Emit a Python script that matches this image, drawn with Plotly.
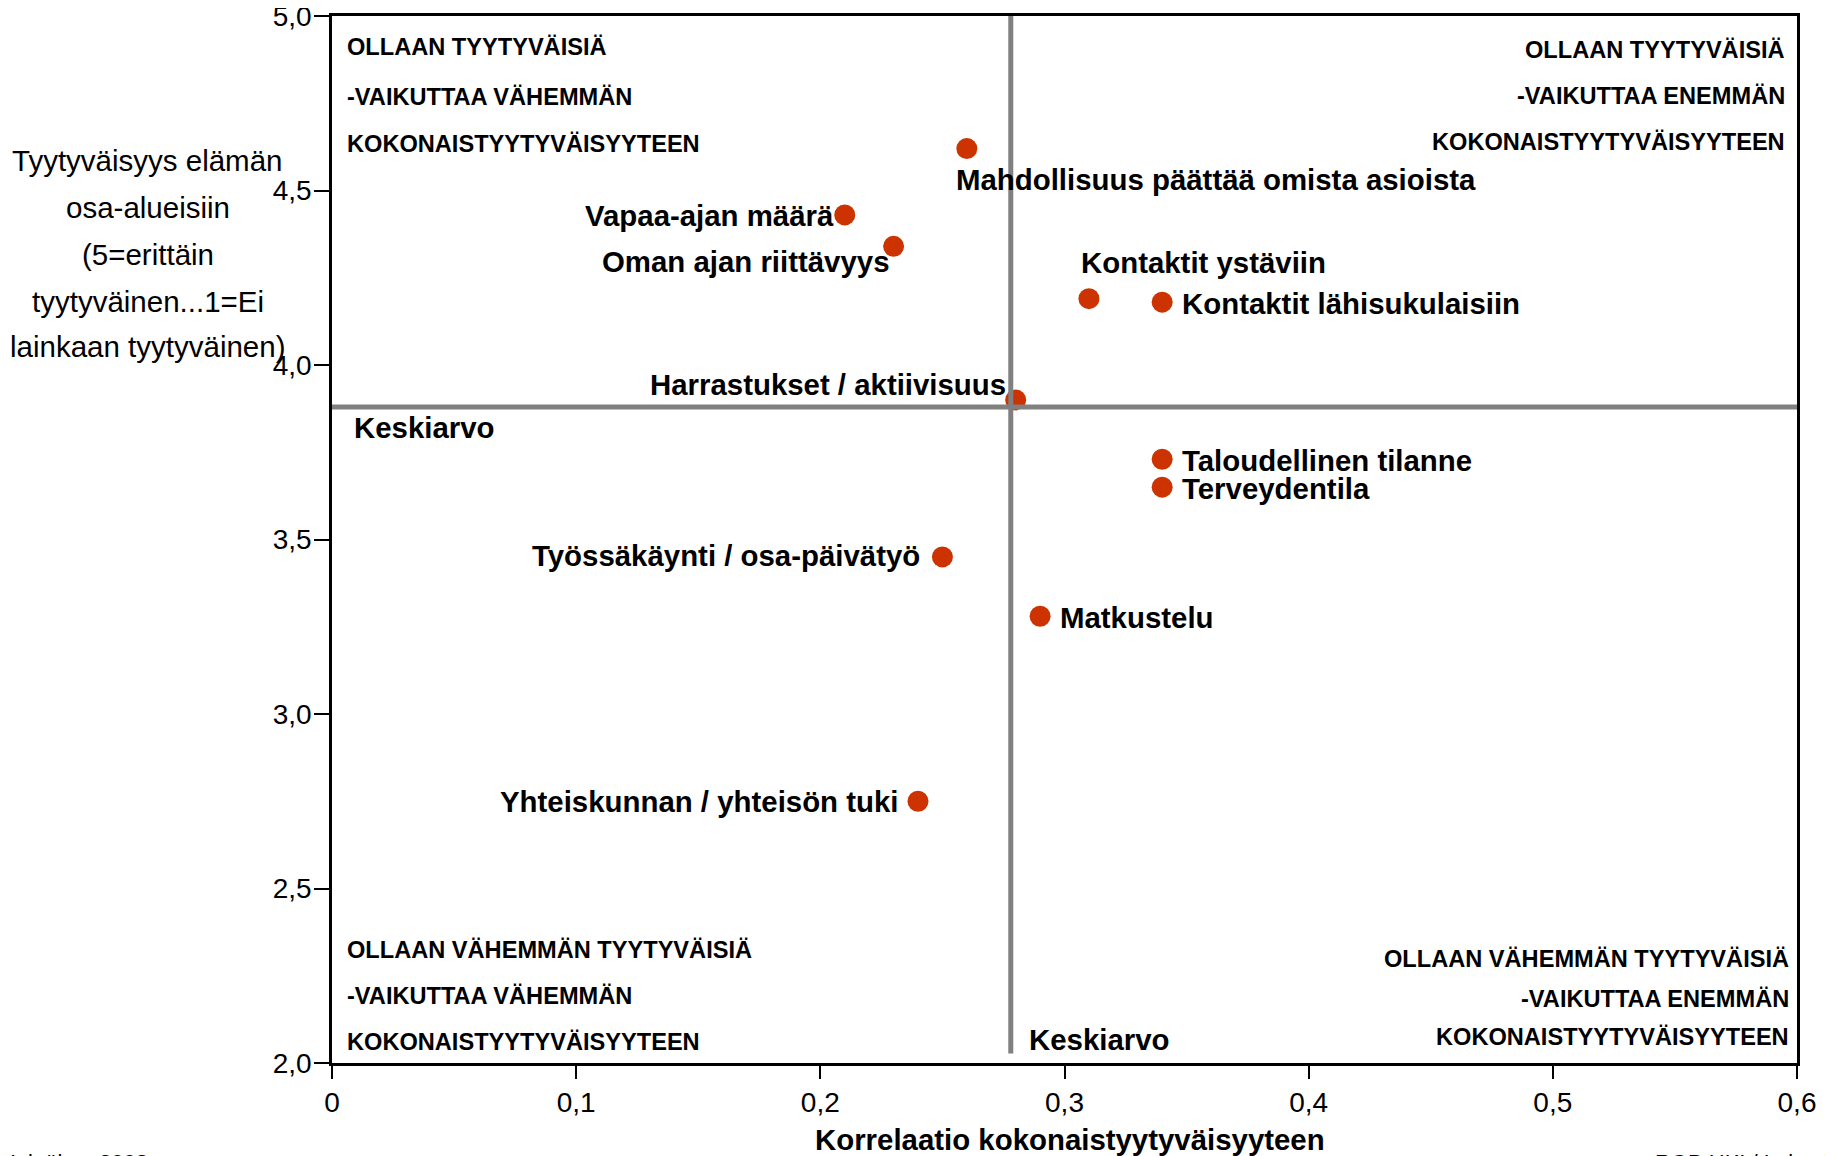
import plotly.graph_objects as go

# ---- data ----
labels = [
    "Mahdollisuus päättää omista asioista",
    "Vapaa-ajan määrä",
    "Oman ajan riittävyys",
    "Kontaktit ystäviin",
    "Kontaktit lähisukulaisiin",
    "Harrastukset / aktiivisuus",
    "Taloudellinen tilanne",
    "Terveydentila",
    "Työssäkäynti / osa-päivätyö",
    "Matkustelu",
    "Yhteiskunnan / yhteisön tuki",
]
correlation = [0.26, 0.21, 0.23, 0.31, 0.34, 0.28, 0.34, 0.34, 0.25, 0.29, 0.24]
satisfaction = [4.62, 4.43, 4.34, 4.19, 4.18, 3.90, 3.73, 3.65, 3.45, 3.28, 2.75]

mean_correlation = 0.278
mean_satisfaction = 3.88

x_tickvals = [0, 0.1, 0.2, 0.3, 0.4, 0.5, 0.6]
x_ticktext = ["0", "0,1", "0,2", "0,3", "0,4", "0,5", "0,6"]
y_tickvals = [2.0, 2.5, 3.0, 3.5, 4.0, 4.5, 5.0]
y_ticktext = ["2,0", "2,5", "3,0", "3,5", "4,0", "4,5", "5,0"]

x_title = "Korrelaatio kokonaistyytyväisyyteen"
y_title_lines = ["Tyytyväisyys elämän", "osa-alueisiin", "(5=erittäin",
                 "tyytyväinen...1=Ei", "lainkaan tyytyväinen)"]
quad_tl = ["OLLAAN TYYTYVÄISIÄ", "-VAIKUTTAA VÄHEMMÄN", "KOKONAISTYYTYVÄISYYTEEN"]
quad_tr = ["OLLAAN TYYTYVÄISIÄ", "-VAIKUTTAA ENEMMÄN", "KOKONAISTYYTYVÄISYYTEEN"]
quad_bl = ["OLLAAN VÄHEMMÄN TYYTYVÄISIÄ", "-VAIKUTTAA VÄHEMMÄN", "KOKONAISTYYTYVÄISYYTEEN"]
quad_br = ["OLLAAN VÄHEMMÄN TYYTYVÄISIÄ", "-VAIKUTTAA ENEMMÄN", "KOKONAISTYYTYVÄISYYTEEN"]
mean_label = "Keskiarvo"
footer_left = "Heinäkuu 2008"
footer_right = "ROB HKI / Leirasi"

# ---- styling / placement ----
FONT = "Liberation Sans, Arial, sans-serif"
DOT = "#CC3300"
GREY = "#808080"

# (xanchor, xshift, yshift) per label
label_pos = [
    ("left", -13, -31),
    ("right", -9, -1),
    ("right", -2, -15),
    ("left", -10, 36),
    ("left", 18, -1),
    ("right", -8, 15),
    ("left", 18, -1),
    ("left", 18, -1),
    ("right", -20, 1),
    ("left", 18, -1),
    ("right", -18, 0),
]

fig = go.Figure()

fig.add_trace(go.Scatter(
    x=correlation, y=satisfaction, mode="markers",
    marker=dict(color=DOT, size=21, line=dict(width=0)),
    hoverinfo="text", text=labels, showlegend=False,
))

# mean lines
fig.add_shape(type="line", x0=mean_correlation, x1=mean_correlation, y0=2.027, y1=5.0,
              xref="x", yref="y", line=dict(color=GREY, width=5), layer="above")
fig.add_shape(type="line", x0=0, x1=0.6, y0=mean_satisfaction, y1=mean_satisfaction,
              xref="x", yref="y", line=dict(color=GREY, width=5), layer="above")

ann = []
lab_font = dict(family=FONT, size=29.4, color="black")
for lab, xv, yv, (xa, xs, ys) in zip(labels, correlation, satisfaction, label_pos):
    ann.append(dict(x=xv, y=yv, xref="x", yref="y", text="<b>%s</b>" % lab,
                    showarrow=False, xanchor=xa, yanchor="middle",
                    xshift=xs, yshift=ys, font=lab_font))

# Keskiarvo labels
ann.append(dict(x=0, y=mean_satisfaction, xref="x", yref="y", text="<b>%s</b>" % mean_label,
                showarrow=False, xanchor="left", yanchor="middle", xshift=20, yshift=-21,
                font=lab_font))
ann.append(dict(x=mean_correlation, y=2.0, xref="x", yref="y", text="<b>%s</b>" % mean_label,
                showarrow=False, xanchor="left", yanchor="middle", xshift=16, yshift=24,
                font=lab_font))

# quadrant texts
qfont = dict(family=FONT, size=23.6, color="black")
def quad(lines, x, ys, xa, xs):
    for t, yv in zip(lines, ys):
        ann.append(dict(x=x, y=yv, xref="x", yref="y", text="<b>%s</b>" % t,
                        showarrow=False, xanchor=xa, yanchor="middle", xshift=xs,
                        font=qfont))

quad(quad_tl, 0, [4.91, 4.769, 4.632], "left", 13)
quad(quad_tr, 0.6, [4.903, 4.772, 4.638], "right", -10)
quad(quad_bl, 0, [2.325, 2.191, 2.060], "left", 13)
quad(quad_br, 0.6, [2.298, 2.184, 2.074], "right", -6)

# y-axis title (multi-line)
for t, yv in zip(y_title_lines, [4.585, 4.451, 4.317, 4.183, 4.052]):
    ann.append(dict(x=-0.1256, y=yv, xref="paper", yref="y", text=t, showarrow=False,
                    xanchor="center", yanchor="middle",
                    font=dict(family=FONT, size=29.5, color="black")))

# x-axis title
ann.append(dict(x=0.504, y=-0.0726, xref="paper", yref="paper", text="<b>%s</b>" % x_title,
                showarrow=False, xanchor="center", yanchor="middle",
                font=dict(family=FONT, size=29.4, color="black")))

# footers (cut at the bottom edge)
ann.append(dict(x=-0.1242, y=-0.0812, xref="paper", yref="paper", text=footer_left,
                showarrow=False, xanchor="right", yanchor="top",
                font=dict(family=FONT, size=22, color="black")))
ann.append(dict(x=0.9017, y=-0.0812, xref="paper", yref="paper", text=footer_right,
                showarrow=False, xanchor="left", yanchor="top",
                font=dict(family=FONT, size=22, color="black")))

# page body has an 8px default margin; compensate so the plot lands where the reference has it
fig.update_layout(
    width=1825, height=1148,
    margin=dict(l=324, r=36, t=8, b=93, autoexpand=False),
    paper_bgcolor="white", plot_bgcolor="white",
    font=dict(family=FONT, color="black"),
    annotations=ann,
    showlegend=False,
)
fig.update_xaxes(range=[0, 0.6], tickvals=x_tickvals, ticktext=x_ticktext,
                 showgrid=False, zeroline=False, showline=True, mirror=True,
                 linecolor="black", linewidth=2.5, ticks="outside", ticklen=13,
                 tickwidth=2, tickcolor="black", automargin=False,
                 ticklabeloverflow="allow",
                 tickfont=dict(family=FONT, size=28, color="black"))
fig.update_yaxes(range=[2, 5], tickvals=y_tickvals, ticktext=y_ticktext,
                 showgrid=False, zeroline=False, showline=True, mirror=True,
                 linecolor="black", linewidth=2.5, ticks="outside", ticklen=15,
                 tickwidth=2, tickcolor="black", automargin=False,
                 ticklabeloverflow="allow", ticklabelstandoff=-3,
                 tickfont=dict(family=FONT, size=28, color="black"))

fig.write_html("out.html")
